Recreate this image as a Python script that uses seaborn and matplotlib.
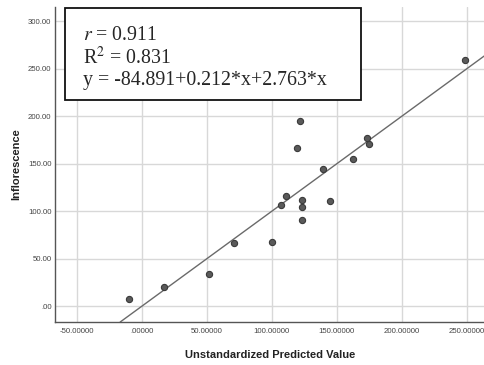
import matplotlib
matplotlib.use("Agg")
import matplotlib.pyplot as plt
from matplotlib.ticker import FuncFormatter
from matplotlib import font_manager
import seaborn as sns
import pandas as pd

# Unstandardized predicted values and observed inflorescence counts
predicted = [-9.8, 17.2, 51.8, 71.0, 99.7, 106.9, 110.8, 119.5, 121.5, 122.8,
             123.1, 122.8, 139.5, 144.6, 162.1, 172.8, 174.4, 248.5]
inflorescence = [7.4, 19.7, 33.4, 66.0, 67.0, 106.0, 115.8, 166.3, 194.4, 111.6,
                 104.5, 90.5, 143.9, 110.2, 154.4, 177.2, 170.5, 259.6]

# Reference fit line (observed = predicted)
fit_intercept = 0.0
fit_slope = 1.0

x_ticks = [-50, 0, 50, 100, 150, 200, 250]
y_ticks = [0, 50, 100, 150, 200, 250, 300]

df = pd.DataFrame({"Unstandardized Predicted Value": predicted,
                   "Inflorescence": inflorescence})

sns.set_style("white")
plt.rcParams["font.family"] = ["Liberation Sans", "DejaVu Sans"]

installed = {f.name for f in font_manager.fontManager.ttflist}
tick_family = "Liberation Sans Narrow" if "Liberation Sans Narrow" in installed else "Liberation Sans"
tick_size = 6.8 if tick_family == "Liberation Sans Narrow" else 5.6

fig = plt.figure(figsize=(4.85, 3.65), dpi=100)
ax = fig.add_axes([0.1134, 0.1178, 0.8866, 0.8630])

sns.scatterplot(data=df, x="Unstandardized Predicted Value", y="Inflorescence",
                ax=ax, s=20, color="#5a5a5a", edgecolor="#3a3a3a",
                linewidth=0.8, zorder=3)

ax.axline((0, fit_intercept), slope=fit_slope, color="#6a6a6a", lw=1.0, zorder=2)

ax.set_xlim(-67, 264)
ax.set_ylim(-16.8, 315)
ax.set_xticks(x_ticks)
ax.set_yticks(y_ticks)


def spss_fmt(decimals):
    def f(v, pos):
        s = f"{v:.{decimals}f}"
        if s.startswith("0."):
            s = s[1:]
        elif s.startswith("-0."):
            s = "-" + s[2:]
        return s
    return FuncFormatter(f)


ax.xaxis.set_major_formatter(spss_fmt(5))
ax.yaxis.set_major_formatter(spss_fmt(2))

ax.grid(True, color="#d8d8d8", lw=1.0)
ax.set_axisbelow(True)
for side in ("top", "right"):
    ax.spines[side].set_visible(False)
for side in ("left", "bottom"):
    ax.spines[side].set_color("#555555")
    ax.spines[side].set_linewidth(1.0)

ax.tick_params(axis="both", which="major", length=0, pad=2.5)
ax.tick_params(axis="x", pad=4)
for lbl in ax.get_xticklabels() + ax.get_yticklabels():
    lbl.set_color("#444444")
    lbl.set_family(tick_family)
    lbl.set_fontsize(tick_size)

ax.set_xlabel("Unstandardized Predicted Value", fontsize=8, fontweight="bold",
              color="#222222", labelpad=11)
ax.set_ylabel("Inflorescence", fontsize=8, fontweight="bold",
              color="#222222", labelpad=5)

# Statistics box
box_text = ("$r$ = 0.911\n"
            "R$^2$ = 0.831\n"
            "y = -84.891+0.212*x+2.763*x")
fig.text(83 / 485, 1 - 26 / 365, box_text, ha="left", va="top",
         fontsize=14.3, family="Liberation Serif", linespacing=1.13,
         math_fontfamily="stix", zorder=10)
fig.patches.append(plt.Rectangle((65 / 485, 1 - 100 / 365), 296 / 485, 91.5 / 365,
                                 transform=fig.transFigure, facecolor="white",
                                 edgecolor="#111111", lw=1.3, zorder=5))

fig.savefig("out.png", dpi=100)
